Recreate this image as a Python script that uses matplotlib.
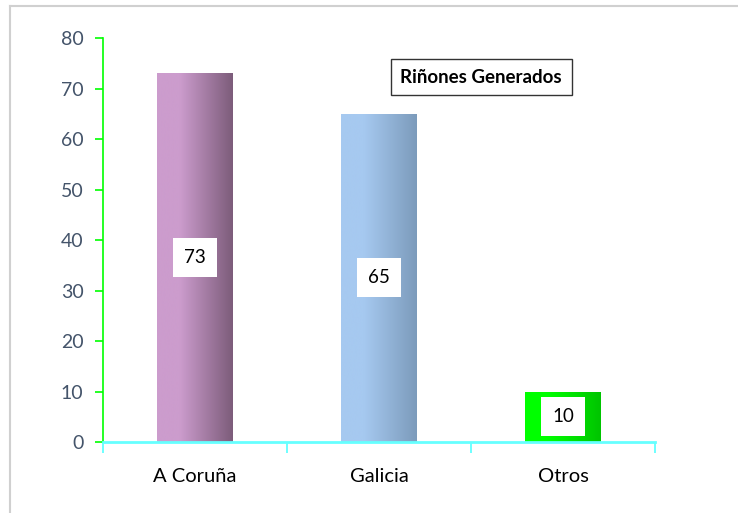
import matplotlib.pyplot as plt
import numpy as np
from matplotlib.colors import LinearSegmentedColormap
from matplotlib.lines import Line2D

categories = ['A Coruña', 'Galicia', 'Otros']
values = [73, 65, 10]
bar_colors = [('#cc9ccd', '#7c5c7a'), ('#a6c9f0', '#7c9bbb'), ('#00ff00', '#00c400')]
yticks = [0, 10, 20, 30, 40, 50, 60, 70, 80]

plt.rcParams['font.family'] = ['Lato', 'DejaVu Sans']

fig = plt.figure(figsize=(7.38, 5.13), dpi=100)
ax = fig.add_axes([0.1396, 0.1384, 0.7480, 0.7875])

x = np.arange(len(categories))
width = 0.41
grad = np.linspace(0, 1, 256).reshape(1, -1)
for i, (v, (c1, c2)) in enumerate(zip(values, bar_colors)):
    bar = ax.bar(x[i], v, width=width, color='none', edgecolor='none', zorder=2)[0]
    cmap = LinearSegmentedColormap.from_list('g%d' % i, [(0, c1), (0.3, c1), (1, c2)])
    im = ax.imshow(grad, cmap=cmap, aspect='auto', zorder=2,
                   extent=[x[i] - width / 2, x[i] + width / 2, 0, v])
    im.set_clip_path(bar)
    ax.text(x[i], v / 2, str(v), ha='center', va='center', fontsize=13.5, color='black',
            zorder=3, bbox=dict(facecolor='white', edgecolor='none', pad=8))

ax.set_xlim(-0.5, len(categories) - 0.5)
ax.set_ylim(0, 80)
ax.set_yticks(yticks)
ax.tick_params(axis='y', colors='#00ff00', labelcolor='#44546a', labelsize=14,
               length=6, width=1.2, direction='out', pad=8)
ax.set_xticks(x)
ax.set_xticklabels(categories, fontsize=14.5)
ax.tick_params(axis='x', length=0, pad=19, labelcolor='black')
ax.set_xticks(np.arange(-0.5, len(categories)), minor=True)
ax.tick_params(axis='x', which='minor', length=8, width=1.2, color='#55ffff')

for s in ['top', 'right']:
    ax.spines[s].set_visible(False)
ax.spines['left'].set_color('#00ff00')
ax.spines['left'].set_linewidth(1.2)
ax.spines['bottom'].set_color('#66ffff')
ax.spines['bottom'].set_linewidth(2)

ax.text(0.685, 0.903, 'Riñones Generados', transform=ax.transAxes, ha='center', va='center',
        fontsize=13.5, fontweight='bold', color='black',
        bbox=dict(facecolor='white', edgecolor='#333333', linewidth=1, pad=7))

# light frame around the chart area
fig.add_artist(Line2D([10 / 738, 1], [1 - 6 / 513, 1 - 6 / 513], color='#d0d0d0', linewidth=1.5))
fig.add_artist(Line2D([10 / 738, 10 / 738], [0, 1 - 6 / 513], color='#d0d0d0', linewidth=1.5))

fig.savefig('out.png', dpi=100)
